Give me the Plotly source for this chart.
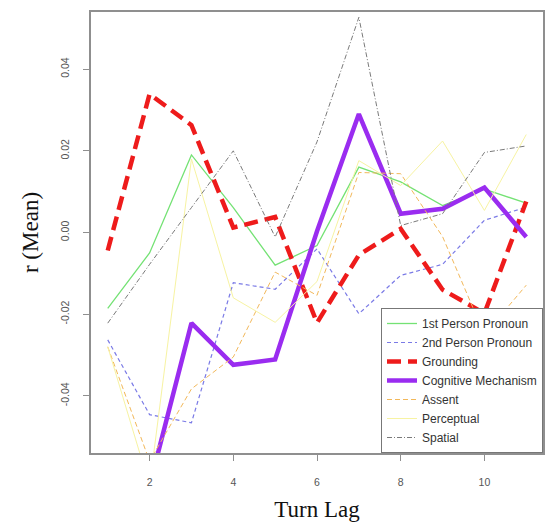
import plotly.graph_objects as go

turn_lag = [1, 2, 3, 4, 5, 6, 7, 8, 9, 10, 11]

first_person = [-0.0186, -0.0050, 0.0190, 0.0061, -0.0080, -0.0032, 0.0160, 0.0124, 0.0066, 0.0106, 0.0072]
second_person = [-0.0263, -0.0446, -0.0466, -0.0123, -0.0139, -0.0040, -0.0199, -0.0105, -0.0078, 0.0030, 0.0062]
grounding = [-0.0044, 0.0339, 0.0263, 0.0012, 0.0038, -0.0221, -0.0055, 0.0009, -0.0140, -0.0198, 0.0076]
cognitive = [-0.0750, -0.0620, -0.0222, -0.0324, -0.0311, 0.0003, 0.0290, 0.0046, 0.0058, 0.0110, -0.0011]
assent = [-0.0280, -0.0560, -0.0383, -0.0305, -0.0097, -0.0154, 0.0147, 0.0144, -0.0010, -0.0250, -0.0129]
perceptual = [-0.0280, -0.0620, 0.0180, -0.0160, -0.0220, -0.0120, 0.0176, 0.0115, 0.0224, 0.0054, 0.0240]
spatial = [-0.0222, -0.0078, 0.0061, 0.0200, -0.0011, 0.0222, 0.0527, 0.0017, 0.0046, 0.0196, 0.0212]

series_names = ["1st Person Pronoun", "2nd Person Pronoun", "Grounding",
                "Cognitive Mechanism", "Assent", "Perceptual", "Spatial"]

x_tick_vals = [2, 4, 6, 8, 10]
x_tick_labels = ["2", "4", "6", "8", "10"]
y_tick_vals = [-0.04, -0.02, 0.0, 0.02, 0.04]
y_tick_labels = ["-0.04", "-0.02", "0.00", "0.02", "0.04"]

styles = [
    dict(color="#74e274", width=1.3, dash="solid"),
    dict(color="#7a7ae6", width=1.2, dash="4px,3px"),
    dict(color="#ee1b1b", width=4.5, dash="14px,7px"),
    dict(color="#9a2cf0", width=4.5, dash="solid"),
    dict(color="#f2b85a", width=1.0, dash="5px,3px"),
    dict(color="#f7f3a2", width=1.0, dash="solid"),
    dict(color="#7a7a7a", width=1.0, dash="5px,2px,1px,2px"),
]

data = [first_person, second_person, grounding, cognitive, assent, perceptual, spatial]

fig = go.Figure()
for name, ys, st in zip(series_names, data, styles):
    fig.add_trace(go.Scatter(x=turn_lag, y=ys, mode="lines", name=name, line=st))

axis_common = dict(
    showgrid=False, zeroline=False, showline=True, mirror=True,
    linecolor="#8f8f8f", linewidth=1.5,
    ticks="outside", ticklen=6, tickwidth=1, tickcolor="#8f8f8f",
    tickfont=dict(family="Liberation Sans, Arial", size=10.5, color="#555555"),
)

fig.update_layout(
    width=548, height=522,
    margin=dict(l=91, r=3, t=12, b=69),
    paper_bgcolor="white", plot_bgcolor="white",
    xaxis=dict(range=[0.6, 11.4], tickvals=x_tick_vals, ticktext=x_tick_labels,
               ticklabelstandoff=13,
               title=dict(text="Turn Lag", font=dict(family="Liberation Serif, Times New Roman", size=23, color="#111"),
                          standoff=15),
               **axis_common),
    yaxis=dict(range=[-0.054, 0.054], tickvals=y_tick_vals, ticktext=y_tick_labels,
               tickangle=-90, ticklabelstandoff=10,
               title=dict(text="r (Mean)", font=dict(family="Liberation Serif, Times New Roman", size=23, color="#111"),
                          standoff=14),
               **axis_common),
    legend=dict(x=1, y=0, xanchor="right", yanchor="bottom",
                bgcolor="white", bordercolor="#777777", borderwidth=1,
                font=dict(family="Liberation Sans, Arial", size=12, color="#333333"),
                tracegroupgap=0, itemwidth=30),
    showlegend=True,
)

fig.write_html("out.html", config={"displayModeBar": False},
               post_script="document.body.style.margin='0';")
